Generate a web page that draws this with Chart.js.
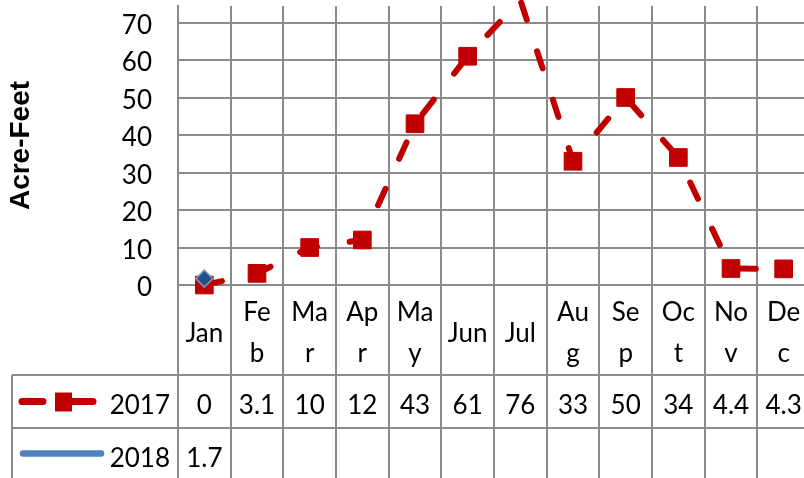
<!DOCTYPE html>
<html>
<head>
<meta charset="utf-8">
<script src="https://cdn.jsdelivr.net/npm/chart.js@4/dist/chart.umd.min.js"></script>
<style>
  html, body { margin: 0; padding: 0; background: #fff; overflow: hidden; }
  #wrap { width: 812px; height: 478px; }
</style>
</head>
<body>
<div id="wrap"><canvas id="chart" width="812" height="478"></canvas></div>
<script>
// Data
const months = ['Jan', 'Feb', 'Mar', 'Apr', 'May', 'Jun', 'Jul', 'Aug', 'Sep', 'Oct', 'Nov', 'Dec'];
// the narrow table columns wrap most month names
const monthLabels = [['Jan'], ['Fe', 'b'], ['Ma', 'r'], ['Ap', 'r'], ['Ma', 'y'], ['Jun'], ['Jul'],
                     ['Au', 'g'], ['Se', 'p'], ['Oc', 't'], ['No', 'v'], ['De', 'c']];
const values2017 = [0, 3.1, 10, 12, 43, 61, 76, 33, 50, 34, 4.4, 4.3];
const values2018 = [1.7, null, null, null, null, null, null, null, null, null, null, null];
const yMin = 0;
const yMax = 74.4;
const yStep = 10;

const gridColor = '#8a8a8a';
const red = '#C00000';
const blue = '#4F81BD';
const tableFont = '26px Lato';

// data table under the plot, drawn from the x scale
const dataTable = {
    id: 'dataTable',
    afterDraw(chart) {
        const ctx = chart.ctx;
        const xs = chart.scales.x;
        const area = chart.chartArea;
        const H = chart.height;
        const tableLeft = 12;
        const rowH = 53;
        const row1 = xs.bottom;
        const row2 = row1 + rowH;

        ctx.save();
        ctx.strokeStyle = gridColor;
        ctx.lineWidth = 2;
        ctx.beginPath();
        for (let i = 0; i <= months.length; i++) {
            const x = Math.round(xs.getPixelForValue(i - 0.5));
            ctx.moveTo(x, area.bottom);
            ctx.lineTo(x, H);
        }
        ctx.moveTo(tableLeft, row1);
        ctx.lineTo(chart.width, row1);
        ctx.moveTo(tableLeft, row2);
        ctx.lineTo(chart.width, row2);
        ctx.moveTo(tableLeft, row1);
        ctx.lineTo(tableLeft, H);
        ctx.stroke();

        // values
        ctx.fillStyle = '#000';
        ctx.font = tableFont;
        ctx.textAlign = 'center';
        ctx.textBaseline = 'middle';
        const rows = [[values2017, row1], [values2018, row2]];
        rows.forEach(([vals, top]) => {
            vals.forEach((v, i) => {
                if (v === null) return;
                ctx.fillText(String(v), xs.getPixelForValue(i), top + rowH / 2 + 4);
            });
        });

        // series names
        ctx.textAlign = 'right';
        ctx.fillText('2017', 170, row1 + rowH / 2 + 4);
        ctx.fillText('2018', 170, row2 + rowH / 2 + 4);

        // legend keys
        ctx.lineCap = 'round';
        ctx.lineWidth = 7;
        ctx.strokeStyle = red;
        const ky1 = row1 + rowH / 2;
        ctx.beginPath();
        ctx.moveTo(22, ky1);
        ctx.lineTo(43, ky1);
        ctx.moveTo(70, ky1);
        ctx.lineTo(93, ky1);
        ctx.stroke();
        ctx.fillStyle = red;
        ctx.fillRect(55, ky1 - 9, 17, 19);

        ctx.strokeStyle = blue;
        ctx.lineWidth = 6.5;
        const ky2 = row2 + rowH / 2 - 1;
        ctx.beginPath();
        ctx.moveTo(23, ky2);
        ctx.lineTo(101, ky2);
        ctx.stroke();
        ctx.restore();
    }
};

// markers outside the plot range are not drawn (the line still is)
const markerSize = (r) => (ctx) => (ctx.raw > yMax ? 0 : r);

const ctx = document.getElementById('chart').getContext('2d');
new Chart(ctx, {
    type: 'line',
    data: {
        labels: monthLabels,
        datasets: [
            {
                label: '2017',
                data: values2017,
                borderColor: red,
                borderWidth: 6,
                borderDash: [18, 33],
                borderCapStyle: 'round',
                pointStyle: 'rect',
                pointRadius: markerSize(12.5),
                pointBackgroundColor: red,
                pointBorderColor: red,
                pointBorderWidth: 1,
                tension: 0,
                clip: false,
                order: 1
            },
            {
                label: '2018',
                data: values2018,
                borderColor: blue,
                borderWidth: 6,
                pointStyle: 'rectRot',
                pointRadius: markerSize(8.5),
                pointBackgroundColor: '#24508a',
                pointBorderColor: '#8096b8',
                pointBorderWidth: 1.5,
                clip: false,
                order: 0
            }
        ]
    },
    options: {
        responsive: false,
        animation: false,
        devicePixelRatio: 1,
        layout: { autoPadding: false, padding: { top: 6, left: 0, right: 2, bottom: 103 } },
        plugins: {
            legend: { display: false },
            tooltip: { enabled: false }
        },
        scales: {
            x: {
                type: 'category',
                offset: true,
                grid: { offset: true, color: gridColor, lineWidth: 2, drawTicks: false },
                border: { display: false },
                ticks: {
                    color: '#000',
                    font: { family: 'Lato', size: 26, lineHeight: 1.55 },
                    padding: 28,
                    crossAlign: 'center',
                    maxRotation: 0,
                    autoSkip: false
                },
                afterFit(scale) {
                    scale.height = 90;
                    scale.paddingLeft = 0;
                    scale.paddingRight = 0;
                }
            },
            y: {
                min: yMin,
                max: yMax,
                grid: { color: gridColor, lineWidth: 2, drawTicks: false },
                border: { display: true, color: gridColor, width: 2 },
                ticks: {
                    stepSize: yStep,
                    includeBounds: false,
                    color: '#000',
                    font: { family: 'Lato', size: 26 },
                    padding: 26,
                    labelOffset: 3
                },
                title: {
                    display: true,
                    text: 'Acre-Feet',
                    color: '#000',
                    font: { family: 'Liberation Sans', size: 28, weight: 'bold' },
                    padding: { top: 4, bottom: 0 }
                },
                afterFit(scale) {
                    scale.width = 178;
                    scale.paddingTop = 0;
                    scale.paddingBottom = 0;
                }
            }
        }
    },
    plugins: [dataTable]
});
</script>
</body>
</html>
